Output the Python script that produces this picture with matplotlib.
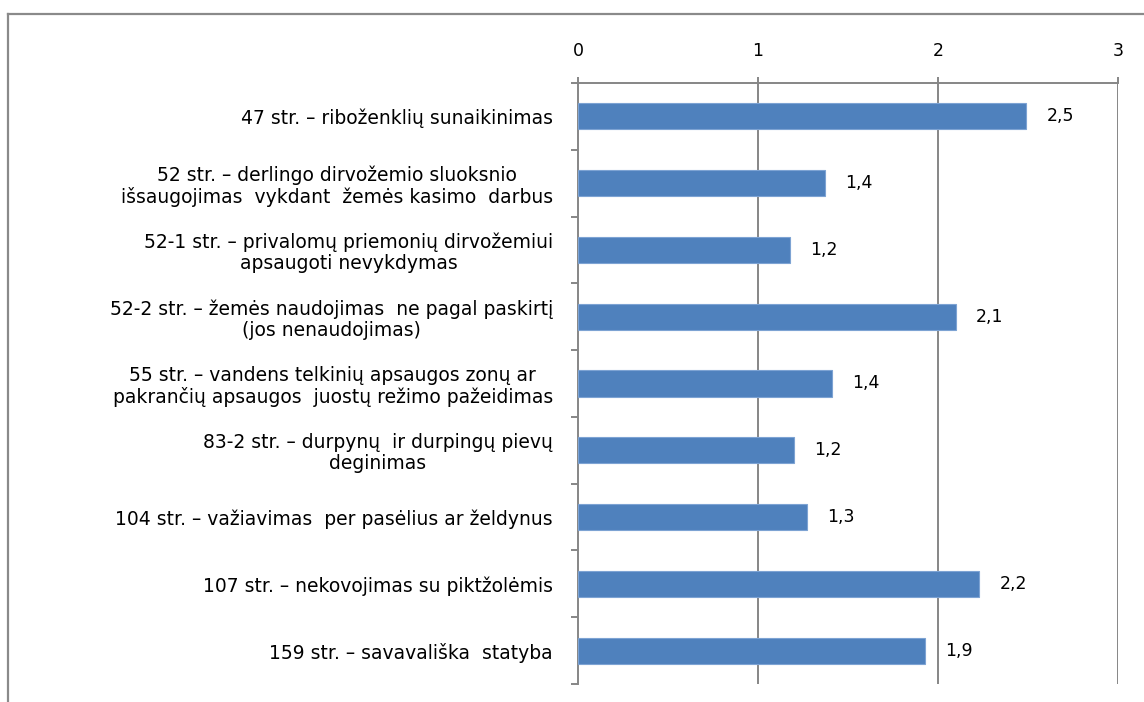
import matplotlib
matplotlib.use("Agg")
import matplotlib.pyplot as plt
from matplotlib.lines import Line2D
import numpy as np

categories = [
    "47 str. – riboženklių sunaikinimas",
    "52 str. – derlingo dirvožemio sluoksnio\nišsaugojimas  vykdant  žemės kasimo  darbus",
    "52-1 str. – privalomų priemonių dirvožemiui\napsaugoti nevykdymas",
    "52-2 str. – žemės naudojimas  ne pagal paskirtį\n(jos nenaudojimas)",
    "55 str. – vandens telkinių apsaugos zonų ar\npakrančių apsaugos  juostų režimo pažeidimas",
    "83-2 str. – durpynų  ir durpingų pievų\ndeginimas",
    "104 str. – važiavimas  per pasėlius ar želdynus",
    "107 str. – nekovojimas su piktžolėmis",
    "159 str. – savavališka  statyba",
]
values = [2.49, 1.37, 1.18, 2.10, 1.41, 1.20, 1.27, 2.23, 1.93]
value_labels = ["2,5", "1,4", "1,2", "2,1", "1,4", "1,2", "1,3", "2,2", "1,9"]
x_ticks = [0, 1, 2, 3]
x_tick_labels = ["0", "1", "2", "3"]

plt.rcParams['font.family'] = ['DejaVu Sans']
FS = 12.5
FS_CAT = 13.5
fig = plt.figure(figsize=(11.44, 7.02), dpi=100)
ax = fig.add_axes([578/1144, 1-684/702, (1118-578)/1144, (684-83)/702])

grid_c = "#868686"
y = np.arange(len(categories))
ax.barh(y, values, height=0.39, color="#4F81BD", edgecolor="#7DA3D3", linewidth=0.8, zorder=3)
for yi, v, lab in zip(y, values, value_labels):
    ax.annotate(lab, (v, yi), xytext=(14.5, 0), textcoords="offset points",
                va="center", ha="left", fontsize=FS, color="black")

ax.set_xlim(0, 3)
ax.set_ylim(len(categories) - 0.5, -0.5)
ax.xaxis.set_ticks_position("top")
ax.set_xticks(x_ticks)
ax.set_xticklabels(x_tick_labels, fontsize=FS)
ax.tick_params(axis="x", direction="out", length=4.5, width=1.4, color=grid_c, pad=12)
for xv in x_ticks[1:]:
    ax.axvline(xv, color=grid_c, linewidth=1.4, zorder=1)

ax.set_yticks(y)
ax.set_yticklabels(categories, fontsize=FS_CAT, multialignment="center", linespacing=1.12)
ax.set_yticks(np.arange(-0.5, len(categories), 1.0), minor=True)
ax.tick_params(axis="y", which="major", length=0, pad=18)
ax.tick_params(axis="y", which="minor", direction="out", length=5, width=1.4, color=grid_c)

for s in ["right", "bottom"]:
    ax.spines[s].set_visible(False)
for s in ["left", "top"]:
    ax.spines[s].set_color(grid_c)
    ax.spines[s].set_linewidth(1.4)

# outer chart frame (left and top edges visible)
fig.add_artist(Line2D([7.5/1144, 7.5/1144], [0, 1-13.5/702], transform=fig.transFigure, color="#8A8A8A", linewidth=1.6))
fig.add_artist(Line2D([7.5/1144, 1], [1-13.5/702, 1-13.5/702], transform=fig.transFigure, color="#8A8A8A", linewidth=1.6))

fig.savefig("out.png", dpi=100)
